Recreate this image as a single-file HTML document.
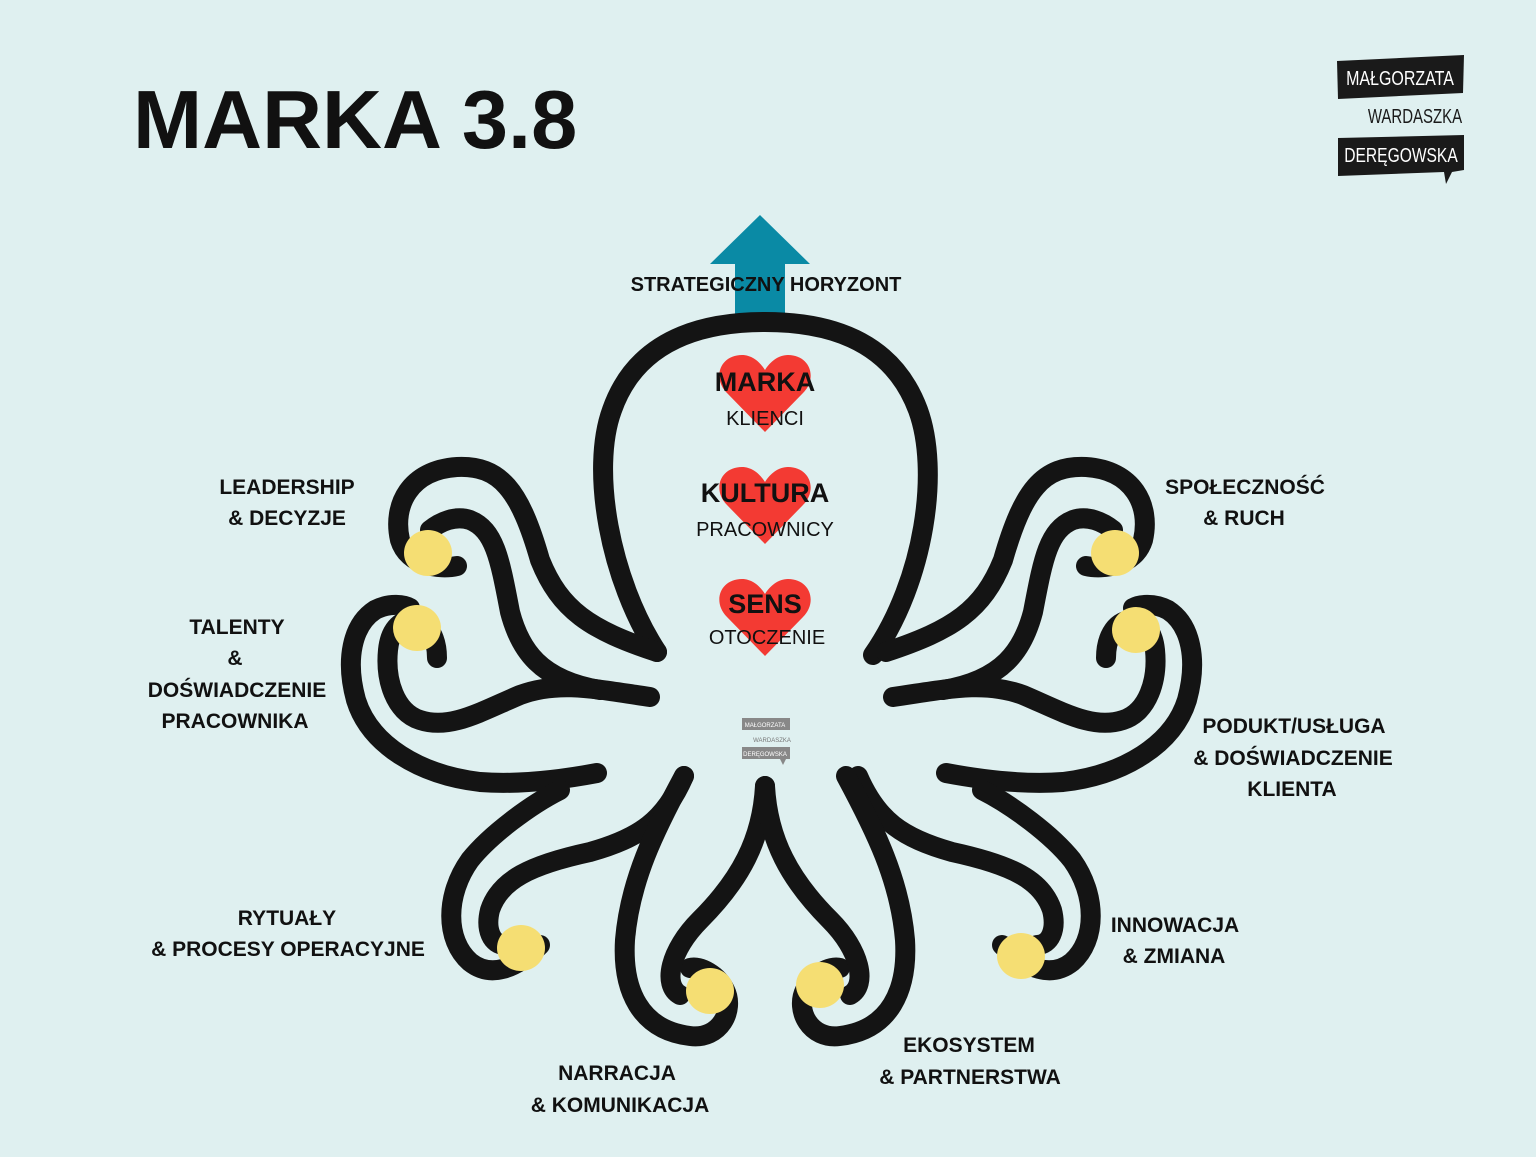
<!DOCTYPE html>
<html><head><meta charset="utf-8"><style>
body{margin:0;width:1536px;height:1152px;background:#dff0f0;overflow:hidden;font-family:"Liberation Sans",sans-serif;}
</style></head><body>
<svg width="1536" height="1152" viewBox="0 0 1536 1152" xmlns="http://www.w3.org/2000/svg">
<rect width="1536" height="1152" fill="#dff0f0"/>
<text x="133" y="148" font-family="Liberation Sans, sans-serif" font-weight="bold" font-size="83" fill="#111">MARKA 3.8</text>

<!-- logo -->
<polygon points="1337,61 1464,55 1463,93 1338,99" fill="#1a1a1a"/>
<text x="1400" y="85" text-anchor="middle" font-size="20" fill="#fff" transform="translate(1400 78) scale(0.8 1) translate(-1400 -78)">MAŁGORZATA</text>
<text x="1415" y="123" text-anchor="middle" font-size="20" fill="#1a1a1a" transform="translate(1415 115) scale(0.75 1) translate(-1415 -115)">WARDASZKA</text>
<polygon points="1338,138 1464,135 1464,170 1452,172 1446,184 1444,172 1338,176" fill="#1a1a1a"/>
<text x="1401" y="162" text-anchor="middle" font-size="20" fill="#fff" transform="translate(1401 155) scale(0.78 1) translate(-1401 -155)">DERĘGOWSKA</text>

<!-- arrow -->
<polygon points="760,215 810,264 785,264 785,315 735,315 735,264 710,264" fill="#0a8aa5"/>

<defs>
<g id="upper">
<path d="M657 652 C 590 630, 560 610, 540 560 C 520 490, 500 465, 457 467 C 410 470, 392 505, 400 540 C 408 566, 440 570, 457 566"/>
<path d="M600 690 C 540 680, 520 650, 510 612 C 500 560, 495 530, 470 520 C 455 515, 440 522, 430 530"/>
<path d="M650 697 C 600 690, 560 680, 520 695 C 480 712, 450 730, 420 720 C 395 712, 385 680, 388 650 C 390 630, 400 620, 412 620 C 430 622, 437 640, 437 658"/>
<path d="M597 773 C 560 780, 520 785, 480 782 C 420 775, 370 745, 356 700 C 345 660, 352 625, 375 610 C 390 602, 405 605, 410 608"/>
</g>
<g id="ryt">
<path d="M560 790 C 530 805, 490 835, 470 860 C 445 895, 445 940, 470 962 C 490 978, 515 970, 540 945"/>
<path d="M684 776 C 665 820, 640 838, 590 852 C 530 865, 500 880, 490 910 C 485 930, 492 945, 505 945"/>
</g>
<g id="narr">
<path d="M684 776 C 655 830, 630 880, 625 940 C 622 990, 640 1030, 690 1036 C 720 1040, 735 1010, 725 990 C 718 975, 700 965, 690 968"/>
<path d="M765 786 C 762 840, 740 880, 700 920 C 670 950, 662 985, 680 995"/>
</g>
</defs>

<g fill="none" stroke="#141414" stroke-width="20" stroke-linecap="round" stroke-linejoin="round">
<path d="M657 652 C 610 580, 590 470, 612 410 C 640 330, 720 322, 765 322 C 820 322, 890 335, 918 410 C 940 470, 925 580, 873 655"/>
<use href="#upper"/>
<use href="#ryt"/>
<use href="#narr"/>
<use href="#upper" transform="translate(1543 0) scale(-1 1)"/>
<use href="#ryt" transform="translate(1542 0) scale(-1 1)"/>
<use href="#narr" transform="translate(1530 0) scale(-1 1)"/>
</g>

<!-- dots -->
<g fill="#f5de73">
<ellipse cx="428" cy="553" rx="24" ry="23"/>
<ellipse cx="417" cy="628" rx="24" ry="23"/>
<ellipse cx="521" cy="948" rx="24" ry="23"/>
<ellipse cx="710" cy="991" rx="24" ry="23"/>
<ellipse cx="1115" cy="553" rx="24" ry="23"/>
<ellipse cx="1136" cy="630" rx="24" ry="23"/>
<ellipse cx="1021" cy="956" rx="24" ry="23"/>
<ellipse cx="820" cy="985" rx="24" ry="23"/>
</g>

<!-- hearts -->
<g fill="#f33a33">
<path d="M765 432 L727 393 C 712 378, 720 355, 742 355 C 752 355, 760 362, 765 370 C 770 362, 778 355, 788 355 C 810 355, 818 378, 803 393 Z"/>
<path d="M765 544 L727 505 C 712 490, 720 467, 742 467 C 752 467, 760 474, 765 482 C 770 474, 778 467, 788 467 C 810 467, 818 490, 803 505 Z"/>
<path d="M765 656 L727 617 C 712 602, 720 579, 742 579 C 752 579, 760 586, 765 594 C 770 586, 778 579, 788 579 C 810 579, 818 602, 803 617 Z"/>
</g>
<g text-anchor="middle" fill="#111" font-family="Liberation Sans, sans-serif">
<text x="765" y="391" font-size="27" font-weight="bold">MARKA</text>
<text x="765" y="425" font-size="20">KLIENCI</text>
<text x="765" y="502" font-size="27" font-weight="bold">KULTURA</text>
<text x="765" y="536" font-size="20">PRACOWNICY</text>
<text x="765" y="613" font-size="27" font-weight="bold">SENS</text>
<text x="767" y="644" font-size="20">OTOCZENIE</text>
<text x="766" y="291" font-size="20" font-weight="bold">STRATEGICZNY HORYZONT</text>
</g>

<!-- small center logo -->
<g>
<rect x="742" y="718" width="48" height="12" fill="#888"/>
<text x="765" y="727" text-anchor="middle" font-size="6" fill="#fff">MAŁGORZATA</text>
<text x="772" y="742" text-anchor="middle" font-size="6" fill="#777">WARDASZKA</text>
<rect x="742" y="747" width="48" height="12" fill="#888"/>
<polygon points="780,759 786,759 783,765" fill="#888"/>
<text x="765" y="756" text-anchor="middle" font-size="6" fill="#fff">DERĘGOWSKA</text>
</g>

<!-- labels -->
<g text-anchor="middle" fill="#111" font-family="Liberation Sans, sans-serif" font-size="21" font-weight="bold">
<text x="287" y="494">LEADERSHIP</text>
<text x="287" y="525">&amp; DECYZJE</text>
<text x="237" y="634">TALENTY</text>
<text x="235" y="665">&amp;</text>
<text x="237" y="697">DOŚWIADCZENIE</text>
<text x="235" y="728">PRACOWNIKA</text>
<text x="287" y="925">RYTUAŁY</text>
<text x="288" y="956">&amp; PROCESY OPERACYJNE</text>
<text x="617" y="1080">NARRACJA</text>
<text x="620" y="1112">&amp; KOMUNIKACJA</text>
<text x="969" y="1052">EKOSYSTEM</text>
<text x="970" y="1084">&amp; PARTNERSTWA</text>
<text x="1175" y="932">INNOWACJA</text>
<text x="1174" y="963">&amp; ZMIANA</text>
<text x="1294" y="733">PODUKT/USŁUGA</text>
<text x="1293" y="765">&amp; DOŚWIADCZENIE</text>
<text x="1292" y="796">KLIENTA</text>
<text x="1245" y="494">SPOŁECZNOŚĆ</text>
<text x="1244" y="525">&amp; RUCH</text>
</g>
</svg>
</body></html>
